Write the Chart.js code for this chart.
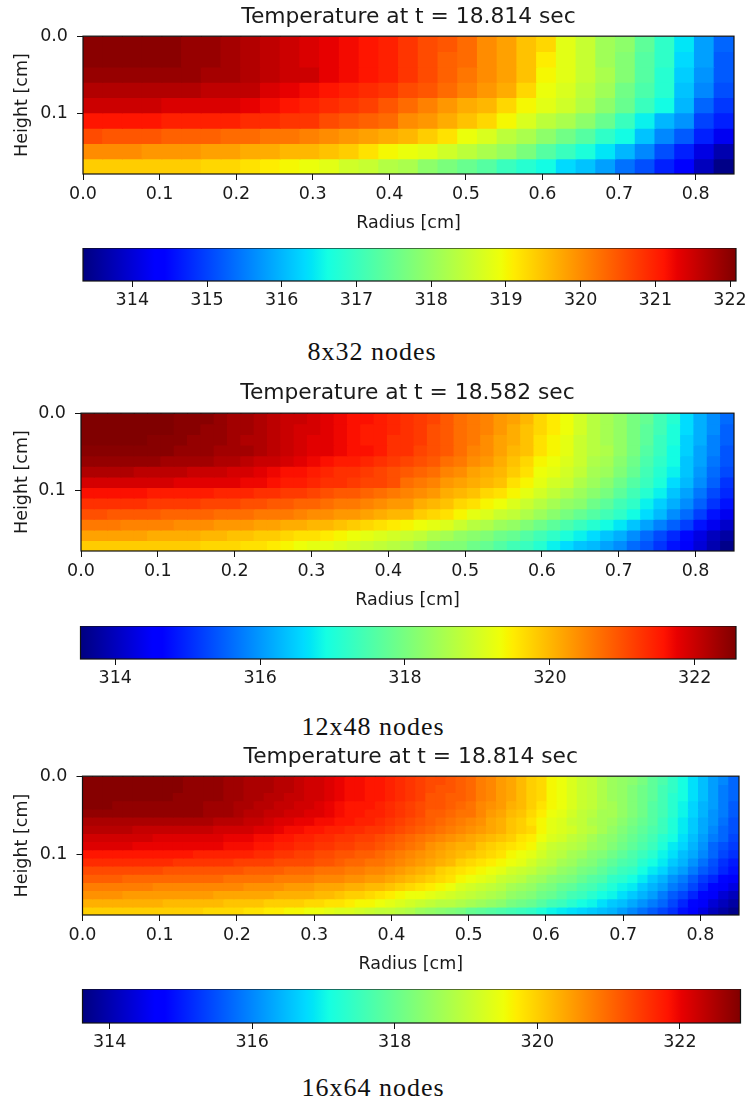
<!DOCTYPE html>
<html>
<head>
<meta charset="utf-8">
<script src="https://cdn.jsdelivr.net/npm/chart.js@4"></script>
<style>
  html, body { margin: 0; background: #fff; }
  body { position: relative; width: 745px; height: 1099px; overflow: hidden; }
  canvas { position: absolute; left: 0; filter: blur(0.45px); }
  .caption {
    position: absolute; width: 300px; text-align: center; color: #111;
    font-family: "Liberation Serif", serif; font-size: 26px; line-height: 30px; letter-spacing: 1px;
  }
</style>
</head>
<body>
<canvas id="map1" width="745" height="234" style="top:0px"></canvas>
<canvas id="bar1" width="770" height="60" style="top:248px"></canvas>
<div class="caption" style="left:222px;top:337px">8x32 nodes</div>
<canvas id="map2" width="745" height="234" style="top:377px"></canvas>
<canvas id="bar2" width="770" height="60" style="top:626px"></canvas>
<div class="caption" style="left:223px;top:712px">12x48 nodes</div>
<canvas id="map3" width="745" height="235" style="top:740px"></canvas>
<canvas id="bar3" width="770" height="60" style="top:989px"></canvas>
<div class="caption" style="left:223px;top:1073px">16x64 nodes</div>

<script>
const R_MAX = 0.85, Z_MAX = 0.178;

const radiusTicks = [0, 0.1, 0.2, 0.3, 0.4, 0.5, 0.6, 0.7, 0.8];
const heightTicks = [0, 0.1];
const barTicks1 = [314, 315, 316, 317, 318, 319, 320, 321, 322];
const barTicks2 = [314, 316, 318, 320, 322];
const barTicks3 = [314, 316, 318, 320, 322];

const title1 = 'Temperature at t = 18.814 sec';
const title2 = 'Temperature at t = 18.582 sec';
const title3 = 'Temperature at t = 18.814 sec';

const range1 = [313.34, 322.08];
const range2 = [313.52, 322.57];
const range3 = [313.62, 322.85];

// temperatures, top row first
const temps1 = [
  [322.0,322.0,322.0,322.0,322.0,321.9,321.9,321.8,321.7,321.6,321.5,321.4,321.3,321.2,321.1,321.0,320.8,320.6,320.5,320.3,320.0,319.8,319.5,319.3,318.8,318.5,318.1,317.9,317.4,316.9,316.4,315.8,315.3],
  [322.0,322.0,322.0,322.0,322.0,321.9,321.9,321.8,321.7,321.6,321.5,321.4,321.3,321.2,321.1,321.0,320.8,320.6,320.4,320.3,320.0,319.8,319.5,319.1,318.8,318.5,318.1,317.8,317.3,316.9,316.3,315.8,315.2],
  [321.9,321.9,321.9,321.9,321.9,321.9,321.8,321.8,321.7,321.6,321.5,321.5,321.3,321.2,321.1,321.0,320.8,320.6,320.4,320.2,320.0,319.8,319.5,319.0,318.8,318.5,318.2,317.8,317.3,316.8,316.2,315.7,315.2],
  [321.7,321.7,321.7,321.7,321.7,321.7,321.6,321.6,321.6,321.4,321.3,321.2,321.1,321.0,320.9,320.8,320.6,320.5,320.3,320.1,319.9,319.7,319.3,318.9,318.7,318.4,318.1,317.6,317.2,316.8,316.1,315.6,315.1],
  [321.5,321.5,321.5,321.5,321.4,321.4,321.4,321.4,321.3,321.2,321.1,321.0,320.9,320.8,320.7,320.5,320.3,320.1,319.9,319.7,319.6,319.3,319.0,318.8,318.6,318.3,317.9,317.5,317.0,316.6,316.0,315.3,314.9],
  [321.1,321.1,321.1,321.1,321.0,321.0,321.0,321.0,320.9,320.9,320.8,320.8,320.6,320.5,320.4,320.3,320.0,319.9,319.7,319.5,319.3,319.0,318.7,318.4,318.2,317.9,317.5,317.0,316.5,316.0,315.7,315.0,314.7],
  [320.6,320.5,320.5,320.5,320.4,320.4,320.4,320.3,320.3,320.2,320.2,320.1,320.0,319.9,319.8,319.7,319.6,319.4,319.2,318.9,318.7,318.4,318.2,317.9,317.6,317.3,316.9,316.6,316.1,315.6,315.2,314.7,314.2],
  [320.0,320.0,320.0,319.9,319.9,319.9,319.8,319.8,319.7,319.7,319.6,319.6,319.5,319.4,319.2,319.0,318.9,318.8,318.6,318.4,318.2,318.0,317.7,317.3,317.0,316.7,316.4,316.0,315.6,315.1,314.7,314.1,313.7],
  [319.4,319.4,319.4,319.4,319.4,319.4,319.3,319.3,319.2,319.1,319.0,318.9,318.8,318.6,318.5,318.3,318.2,317.9,317.7,317.5,317.3,317.0,316.8,316.6,316.3,316.1,315.8,315.4,315.1,314.7,314.3,313.8,313.4]
];

const temps2 = [
  [322.6,322.6,322.6,322.6,322.6,322.6,322.6,322.5,322.5,322.5,322.4,322.3,322.3,322.2,322.1,322.0,
   322.0,321.9,321.8,321.7,321.6,321.6,321.5,321.4,321.3,321.2,321.1,320.9,320.7,320.6,320.5,320.3,
   320.2,320.0,319.7,319.5,319.3,319.0,318.7,318.5,318.3,318.0,317.8,317.4,317.1,316.6,316.2,315.9,315.6],
  [322.6,322.6,322.6,322.6,322.6,322.6,322.6,322.5,322.5,322.4,322.4,322.3,322.3,322.2,322.1,322.0,
   321.9,321.9,321.8,321.7,321.6,321.5,321.5,321.4,321.3,321.2,321.0,320.9,320.7,320.6,320.5,320.3,
   320.1,319.9,319.7,319.5,319.3,319.0,318.7,318.5,318.3,318.0,317.7,317.4,317.0,316.6,316.2,315.9,315.5],
  [322.6,322.6,322.6,322.6,322.6,322.5,322.5,322.5,322.4,322.4,322.4,322.3,322.2,322.2,322.1,322.0,
   321.9,321.8,321.8,321.7,321.6,321.5,321.5,321.3,321.3,321.2,321.0,320.9,320.7,320.6,320.4,320.2,
   320.1,319.9,319.6,319.4,319.2,318.9,318.7,318.5,318.3,318.0,317.7,317.3,317.0,316.5,316.2,315.8,315.5],
  [322.5,322.5,322.5,322.5,322.5,322.5,322.5,322.4,322.4,322.4,322.3,322.3,322.3,322.2,322.1,322.0,
   321.9,321.8,321.8,321.7,321.6,321.6,321.5,321.3,321.3,321.1,321.0,320.9,320.7,320.5,320.4,320.2,
   320.0,319.9,319.6,319.4,319.2,318.9,318.7,318.6,318.3,318.0,317.6,317.3,316.9,316.5,316.1,315.8,315.4],
  [322.4,322.4,322.4,322.4,322.4,322.4,322.3,322.3,322.3,322.3,322.2,322.2,322.1,322.0,322.0,321.9,
   321.8,321.7,321.6,321.5,321.5,321.4,321.3,321.2,321.1,321.0,320.9,320.7,320.6,320.4,320.3,320.1,
   319.9,319.7,319.4,319.3,319.1,318.9,318.6,318.5,318.2,317.9,317.5,317.2,316.9,316.4,316.1,315.7,315.4],
  [322.2,322.2,322.2,322.2,322.1,322.1,322.1,322.1,322.0,322.0,322.0,321.9,321.9,321.8,321.7,321.6,
   321.6,321.5,321.4,321.3,321.3,321.2,321.1,321.0,320.9,320.8,320.7,320.5,320.4,320.2,320.1,320.0,
   319.8,319.6,319.3,319.2,319.0,318.8,318.5,318.4,318.1,317.8,317.4,317.1,316.8,316.4,316.0,315.6,315.3],
  [321.9,321.9,321.9,321.9,321.9,321.9,321.9,321.8,321.8,321.8,321.8,321.8,321.7,321.7,321.6,321.5,
   321.5,321.4,321.3,321.3,321.2,321.1,321.1,321.0,320.7,320.6,320.5,320.3,320.2,320.1,320.0,319.9,
   319.6,319.4,319.2,319.0,318.9,318.6,318.4,318.2,317.9,317.6,317.3,317.0,316.6,316.3,315.9,315.5,315.1],
  [321.6,321.6,321.6,321.6,321.6,321.5,321.5,321.5,321.5,321.5,321.4,321.4,321.4,321.3,321.3,321.2,
   321.2,321.1,321.0,320.9,320.9,320.8,320.7,320.6,320.5,320.4,320.3,320.1,320.0,319.9,319.7,319.6,
   319.4,319.2,319.0,318.8,318.6,318.4,318.2,318.0,317.7,317.4,317.1,316.8,316.4,316.1,315.7,315.3,315.0],
  [321.3,321.3,321.3,321.3,321.3,321.2,321.2,321.2,321.2,321.1,321.1,321.1,321.0,321.0,320.9,320.9,
   320.8,320.8,320.7,320.6,320.6,320.5,320.4,320.3,320.3,320.1,320.0,319.9,319.7,319.6,319.4,319.3,
   319.1,318.9,318.7,318.5,318.3,318.2,317.9,317.7,317.4,317.2,316.8,316.5,316.2,315.9,315.5,315.1,314.8],
  [321.0,321.0,320.9,320.9,320.9,320.9,320.8,320.8,320.8,320.8,320.7,320.7,320.7,320.6,320.6,320.6,
   320.5,320.4,320.4,320.3,320.3,320.2,320.1,320.0,320.0,319.8,319.7,319.6,319.4,319.2,319.1,318.9,
   318.8,318.6,318.4,318.2,318.0,317.8,317.6,317.4,317.2,316.9,316.6,316.3,315.9,315.6,315.2,314.8,314.4],
  [320.6,320.6,320.6,320.5,320.5,320.5,320.5,320.4,320.4,320.4,320.3,320.3,320.3,320.2,320.2,320.1,
   320.1,320.0,320.0,319.9,319.8,319.7,319.6,319.5,319.4,319.3,319.2,319.1,318.9,318.7,318.6,318.4,
   318.3,318.1,317.9,317.7,317.5,317.3,317.1,316.9,316.7,316.4,316.1,315.8,315.5,315.2,314.8,314.4,314.1],
  [320.2,320.2,320.2,320.2,320.2,320.1,320.1,320.1,320.1,320.0,320.0,319.9,319.9,319.8,319.8,319.7,
   319.6,319.6,319.5,319.4,319.3,319.2,319.1,319.0,318.9,318.8,318.6,318.5,318.3,318.2,318.1,317.9,
   317.8,317.6,317.4,317.2,317.0,316.8,316.6,316.4,316.2,315.9,315.6,315.3,315.0,314.7,314.3,314.0,313.8],
  [319.8,319.8,319.8,319.8,319.8,319.8,319.8,319.8,319.8,319.7,319.7,319.7,319.6,319.6,319.5,319.4,
   319.3,319.2,319.2,319.1,319.0,318.9,318.8,318.7,318.6,318.4,318.2,318.1,318.1,317.9,317.8,317.6,
   317.4,317.3,317.1,316.8,316.6,316.4,316.3,316.1,315.9,315.6,315.4,315.1,314.8,314.5,314.2,313.9,313.6]
];

const temps3 = [
  [322.8,322.8,322.8,322.8,322.8,322.8,322.8,322.8,322.8,322.8,322.7,322.7,322.7,
   322.7,322.6,322.6,322.5,322.5,322.5,322.4,322.4,322.3,322.2,322.2,322.1,322.0,
   321.9,321.9,321.8,321.8,321.7,321.6,321.5,321.4,321.3,321.3,321.2,321.1,321.0,
   320.8,320.7,320.5,320.4,320.2,320.0,319.9,319.6,319.5,319.3,319.1,319.0,318.8,
   318.6,318.5,318.4,318.2,317.9,317.7,317.4,317.1,316.8,316.5,316.2,316.0,315.7],
  [322.8,322.8,322.8,322.8,322.8,322.8,322.8,322.8,322.8,322.8,322.7,322.7,322.7,
   322.7,322.6,322.6,322.5,322.5,322.5,322.4,322.4,322.3,322.2,322.2,322.1,322.0,
   321.9,321.9,321.8,321.8,321.7,321.6,321.5,321.4,321.3,321.2,321.2,321.1,321.0,
   320.8,320.7,320.5,320.4,320.2,320.0,319.9,319.6,319.5,319.3,319.1,319.0,318.8,
   318.6,318.5,318.3,318.1,317.9,317.6,317.4,317.1,316.8,316.5,316.2,315.9,315.7],
  [322.8,322.8,322.8,322.8,322.8,322.8,322.8,322.8,322.8,322.7,322.7,322.7,322.7,
   322.7,322.6,322.6,322.5,322.5,322.4,322.4,322.3,322.3,322.2,322.2,322.1,322.0,
   321.9,321.9,321.8,321.8,321.7,321.6,321.5,321.4,321.2,321.2,321.1,321.1,321.0,
   320.8,320.7,320.5,320.4,320.2,320.0,319.9,319.6,319.5,319.3,319.1,319.0,318.8,
   318.6,318.5,318.3,318.1,317.9,317.6,317.3,317.1,316.8,316.5,316.2,315.9,315.7],
  [322.8,322.8,322.8,322.7,322.7,322.7,322.7,322.7,322.7,322.7,322.7,322.7,322.6,
   322.6,322.6,322.5,322.5,322.4,322.4,322.3,322.3,322.2,322.2,322.1,322.0,321.9,
   321.8,321.8,321.8,321.7,321.6,321.5,321.4,321.3,321.2,321.2,321.1,321.0,320.9,
   320.7,320.6,320.5,320.3,320.2,320.0,319.8,319.6,319.5,319.3,319.1,319.0,318.8,
   318.7,318.5,318.3,318.1,317.8,317.6,317.3,317.0,316.7,316.4,316.2,315.9,315.6],
  [322.7,322.7,322.7,322.7,322.7,322.7,322.7,322.7,322.7,322.7,322.7,322.7,322.6,
   322.6,322.6,322.5,322.4,322.4,322.3,322.3,322.2,322.2,322.1,322.1,322.0,321.9,
   321.8,321.8,321.7,321.7,321.6,321.5,321.4,321.3,321.1,321.1,321.0,320.9,320.9,
   320.7,320.5,320.4,320.2,320.1,319.9,319.7,319.5,319.4,319.2,319.0,318.9,318.7,
   318.7,318.5,318.3,318.1,317.8,317.6,317.3,317.0,316.7,316.4,316.1,315.9,315.6],
  [322.5,322.5,322.5,322.5,322.5,322.5,322.5,322.5,322.5,322.5,322.5,322.5,322.5,
   322.4,322.4,322.4,322.3,322.3,322.2,322.1,322.1,322.0,322.0,321.9,321.9,321.8,
   321.8,321.7,321.7,321.6,321.5,321.4,321.3,321.2,321.1,321.0,320.9,320.8,320.7,
   320.6,320.4,320.3,320.1,320.0,319.8,319.6,319.4,319.3,319.1,319.0,318.8,318.7,
   318.6,318.4,318.2,318.0,317.8,317.5,317.2,316.9,316.6,316.3,316.1,315.8,315.5],
  [322.4,322.4,322.4,322.4,322.4,322.3,322.3,322.3,322.3,322.3,322.3,322.3,322.3,
   322.2,322.2,322.2,322.2,322.1,322.1,322.0,321.9,321.9,321.8,321.8,321.7,321.7,
   321.6,321.6,321.5,321.5,321.4,321.3,321.2,321.1,321.0,320.9,320.8,320.7,320.6,
   320.5,320.4,320.3,320.1,320.0,319.9,319.6,319.4,319.3,319.2,319.0,318.9,318.7,
   318.5,318.3,318.1,317.9,317.7,317.5,317.2,316.9,316.6,316.3,316.0,315.7,315.5],
  [322.2,322.2,322.2,322.2,322.2,322.2,322.2,322.1,322.1,322.1,322.1,322.1,322.1,
   322.1,322.0,322.0,322.0,321.9,321.9,321.8,321.8,321.7,321.7,321.6,321.6,321.5,
   321.5,321.4,321.4,321.3,321.2,321.1,321.0,320.9,320.8,320.7,320.6,320.5,320.4,
   320.3,320.2,320.1,320.0,319.8,319.7,319.5,319.3,319.2,319.0,318.9,318.7,318.5,
   318.4,318.2,318.0,317.8,317.6,317.3,317.1,316.8,316.5,316.2,315.9,315.7,315.4],
  [322.1,322.1,322.1,322.1,322.1,322.0,322.0,322.0,322.0,322.0,322.0,322.0,322.0,
   322.0,321.9,321.9,321.9,321.8,321.8,321.7,321.7,321.6,321.6,321.5,321.5,321.4,
   321.4,321.3,321.3,321.2,321.1,321.0,320.9,320.8,320.6,320.5,320.4,320.3,320.3,
   320.1,320.0,319.9,319.8,319.7,319.6,319.3,319.1,319.0,318.9,318.8,318.6,318.5,
   318.3,318.1,317.9,317.7,317.5,317.2,316.9,316.7,316.4,316.1,315.7,315.5,315.3],
  [321.8,321.8,321.8,321.8,321.8,321.8,321.8,321.8,321.8,321.8,321.8,321.7,321.7,
   321.7,321.7,321.7,321.7,321.6,321.6,321.5,321.5,321.4,321.4,321.3,321.3,321.2,
   321.2,321.1,321.1,321.0,320.9,320.8,320.7,320.6,320.5,320.4,320.3,320.2,320.1,
   320.0,319.9,319.8,319.6,319.5,319.4,319.2,319.0,318.9,318.7,318.6,318.4,318.3,
   318.1,317.9,317.7,317.5,317.3,317.0,316.8,316.5,316.3,316.0,315.7,315.4,315.2],
  [321.6,321.6,321.6,321.6,321.6,321.6,321.6,321.6,321.6,321.5,321.5,321.5,321.5,
   321.5,321.5,321.4,321.4,321.4,321.4,321.3,321.3,321.3,321.3,321.2,321.2,321.1,
   321.0,321.0,320.9,320.9,320.8,320.7,320.6,320.5,320.4,320.3,320.2,320.0,319.9,
   319.8,319.7,319.6,319.5,319.4,319.2,319.0,318.9,318.7,318.6,318.4,318.3,318.1,
   317.9,317.7,317.6,317.3,317.1,316.9,316.6,316.4,316.1,315.8,315.5,315.2,315.0],
  [321.3,321.3,321.3,321.3,321.3,321.3,321.3,321.3,321.2,321.2,321.2,321.2,321.2,
   321.2,321.2,321.2,321.1,321.1,321.1,321.1,321.0,321.0,321.0,320.9,320.9,320.9,
   320.8,320.8,320.7,320.7,320.6,320.5,320.4,320.3,320.2,320.0,319.9,319.8,319.7,
   319.6,319.5,319.4,319.2,319.1,319.0,318.8,318.7,318.5,318.4,318.2,318.1,317.9,
   317.7,317.5,317.4,317.1,316.9,316.7,316.4,316.2,315.9,315.6,315.4,315.1,314.9],
  [321.1,321.1,321.1,321.1,321.0,321.0,321.0,321.0,321.0,321.0,321.0,321.0,321.0,
   321.0,320.9,320.9,320.9,320.9,320.9,320.8,320.8,320.8,320.8,320.7,320.7,320.7,
   320.6,320.6,320.5,320.5,320.4,320.3,320.2,320.1,320.0,319.9,319.8,319.6,319.5,
   319.4,319.3,319.1,319.0,318.9,318.7,318.6,318.4,318.3,318.2,318.0,317.8,317.7,
   317.4,317.3,317.1,316.9,316.6,316.4,316.1,315.9,315.6,315.3,315.1,314.8,314.6],
  [320.8,320.8,320.8,320.8,320.8,320.8,320.8,320.7,320.7,320.7,320.7,320.7,320.7,
   320.7,320.7,320.7,320.6,320.6,320.6,320.6,320.5,320.5,320.5,320.4,320.4,320.4,
   320.3,320.3,320.2,320.2,320.1,320.0,319.9,319.8,319.7,319.6,319.5,319.3,319.2,
   319.1,319.0,318.9,318.7,318.6,318.5,318.3,318.2,318.0,317.9,317.7,317.6,317.4,
   317.2,317.0,316.9,316.6,316.4,316.2,315.9,315.7,315.4,315.1,314.8,314.6,314.4],
  [320.6,320.6,320.6,320.6,320.5,320.5,320.5,320.5,320.5,320.5,320.5,320.5,320.5,
   320.4,320.4,320.4,320.4,320.4,320.4,320.3,320.3,320.3,320.3,320.2,320.2,320.1,
   320.0,320.0,319.9,319.8,319.7,319.6,319.5,319.5,319.4,319.3,319.2,319.1,319.0,
   318.9,318.8,318.7,318.5,318.4,318.3,318.1,318.0,317.8,317.6,317.5,317.3,317.1,
   317.0,316.8,316.6,316.4,316.2,315.9,315.6,315.4,315.1,314.8,314.6,314.3,314.1],
  [320.3,320.3,320.3,320.3,320.3,320.3,320.3,320.3,320.2,320.2,320.2,320.2,320.2,
   320.2,320.1,320.1,320.1,320.1,320.0,320.0,320.0,320.0,319.9,319.9,319.8,319.8,
   319.7,319.6,319.6,319.5,319.4,319.3,319.2,319.1,319.0,318.9,318.9,318.8,318.7,
   318.6,318.5,318.4,318.2,318.1,318.0,317.8,317.6,317.5,317.3,317.1,317.0,316.8,
   316.6,316.5,316.3,316.1,315.9,315.7,315.4,315.1,314.8,314.6,314.3,314.1,313.9],
  [320.0,320.0,320.0,320.0,320.0,320.0,320.0,320.0,320.0,320.0,320.0,320.0,319.9,
   319.9,319.9,319.9,319.8,319.8,319.7,319.7,319.6,319.6,319.5,319.5,319.4,319.3,
   319.3,319.2,319.1,319.0,319.0,318.9,318.8,318.6,318.5,318.4,318.3,318.2,318.0,
   317.9,317.8,317.7,317.6,317.5,317.4,317.2,317.0,316.9,316.8,316.7,316.6,316.5,
   316.4,316.2,316.0,315.8,315.6,315.4,315.2,314.9,314.7,314.4,314.1,313.9,313.7]
];

// matplotlib jet segments: [position, level]
const jetR = [[0,0],[.35,0],[.66,1],[.89,1],[1,.5]];
const jetG = [[0,0],[.125,0],[.375,1],[.64,1],[.91,0],[1,0]];
const jetB = [[0,.5],[.11,1],[.34,1],[.65,0],[1,0]];

function seg(list, t){
  for (let i = 1; i < list.length; i++) {
    if (t <= list[i][0]) {
      const [a, va] = list[i-1], [b, vb] = list[i];
      return va + (vb - va) * (t - a) / (b - a);
    }
  }
  return list[list.length-1][1];
}

function jet(t){
  t = Math.max(0, Math.min(1, t));
  const c = l => Math.round(seg(l, t) * 255);
  return `rgb(${c(jetR)},${c(jetG)},${c(jetB)})`;
}

const TEXT = '#1a1a1a';
const FONT = 'DejaVu Sans';
const tickFont = { family: FONT, size: 17.5 };

// black box round the plot area
const frame = {
  id: 'frame',
  afterDatasetsDraw(chart){
    const a = chart.chartArea, c = chart.ctx;
    c.save();
    c.strokeStyle = '#111';
    c.lineWidth = 1.2;
    c.strokeRect(a.left, a.top, a.right - a.left, a.bottom - a.top);
    c.restore();
  }
};

// one floating bar per cell, one dataset per row
function makeMap(id, rows, range, title, box){
  const [lo, hi] = range;
  const nz = rows.length;
  const datasets = rows.map((row, j) => ({
    data: row.map((_, k) => ({
      x: (k + 0.5) / row.length * R_MAX,
      y: [j / nz * Z_MAX, (j + 1) / nz * Z_MAX]
    })),
    backgroundColor: row.map(T => jet((T - lo) / (hi - lo))),
    borderWidth: 0,
    inflateAmount: 0.6,
    grouped: false,
    barPercentage: 1,
    categoryPercentage: 1
  }));
  return new Chart(document.getElementById(id), {
    type: 'bar',
    data: { datasets },
    plugins: [frame],
    options: {
      responsive: false,
      animation: false,
      layout: { padding: { right: 745 - box.right } },
      plugins: {
        legend: { display: false },
        tooltip: { enabled: false },
        title: {
          display: true, text: title, color: TEXT, fullSize: false,
          font: { family: FONT, size: 21.8, weight: 'normal' },
          padding: { top: box.titleTop, bottom: 36 - box.titleTop - 26 }
        }
      },
      scales: {
        x: {
          type: 'linear', min: 0, max: R_MAX, offset: false,
          afterBuildTicks: s => { s.ticks = radiusTicks.map(value => ({ value })); },
          afterFit: s => { s.height = 60; },
          grid: { offset: false, drawOnChartArea: false, tickLength: 6, tickColor: '#111' },
          border: { display: false },
          ticks: { color: TEXT, font: tickFont, padding: 4, maxRotation: 0, autoSkip: false, callback: v => v.toFixed(1) },
          title: { display: true, text: 'Radius [cm]', color: TEXT, font: tickFont, padding: { top: 2, bottom: 0 } }
        },
        y: {
          type: 'linear', min: 0, max: Z_MAX, reverse: true,
          afterBuildTicks: s => { s.ticks = heightTicks.map(value => ({ value })); },
          afterFit: s => { s.width = box.left; },
          grid: { drawOnChartArea: false, tickLength: 6, tickColor: '#111' },
          border: { display: false },
          ticks: { color: TEXT, font: tickFont, padding: 9, autoSkip: false, callback: v => v.toFixed(1) },
          title: { display: true, text: 'Height [cm]', color: TEXT, font: tickFont, padding: { top: 12, bottom: 0 } }
        }
      }
    }
  });
}

// colorbar: a single floating bar filled with the jet ramp
function makeBar(id, ticks, range, box){
  const stops = [...new Set([...jetR, ...jetG, ...jetB].map(p => p[0]))];
  return new Chart(document.getElementById(id), {
    type: 'bar',
    data: {
      labels: ['T'],
      datasets: [{
        data: [range],
        barPercentage: 1,
        categoryPercentage: 1,
        borderWidth: 0,
        backgroundColor(ctx){
          const a = ctx.chart.chartArea;
          if (!a) return '#888';
          const g = ctx.chart.ctx.createLinearGradient(a.left, 0, a.right, 0);
          stops.forEach(t => g.addColorStop(t, jet(t)));
          return g;
        }
      }]
    },
    plugins: [frame],
    options: {
      indexAxis: 'y',
      responsive: false,
      animation: false,
      layout: { padding: { left: box.left, right: 770 - box.right } },
      plugins: { legend: { display: false }, tooltip: { enabled: false } },
      scales: {
        y: { display: false },
        x: {
          type: 'linear', min: range[0], max: range[1],
          afterBuildTicks: s => { s.ticks = ticks.map(value => ({ value })); },
          afterFit: s => { s.height = 60 - box.height; },
          grid: { drawOnChartArea: false, tickLength: 6, tickColor: '#111' },
          border: { display: false },
          ticks: { color: TEXT, font: tickFont, padding: 3, maxRotation: 0, autoSkip: false }
        }
      }
    }
  });
}

makeMap('map1', temps1, range1, title1, { left: 83, right: 734, titleTop: 4 });
makeMap('map2', temps2, range2, title2, { left: 81, right: 734, titleTop: 3 });
makeMap('map3', temps3, range3, title3, { left: 82.5, right: 739, titleTop: 4 });
makeBar('bar1', barTicks1, range1, { left: 83, right: 736, height: 33 });
makeBar('bar2', barTicks2, range2, { left: 80.5, right: 736, height: 33 });
makeBar('bar3', barTicks3, range3, { left: 82.5, right: 740.5, height: 34 });
</script>
</body>
</html>
